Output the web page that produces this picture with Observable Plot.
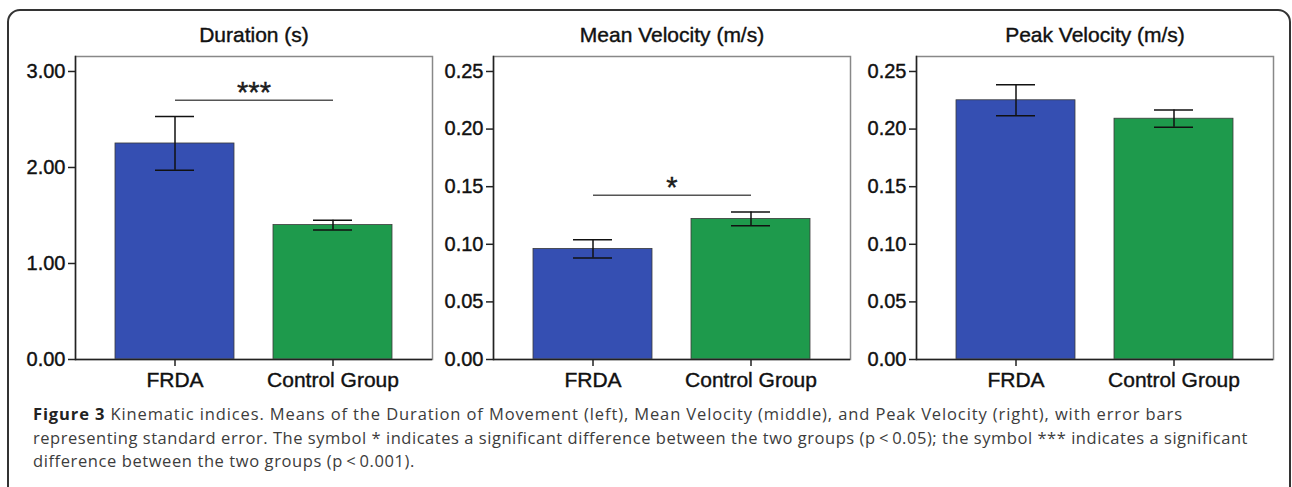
<!DOCTYPE html>
<html><head><meta charset="utf-8">
<script src="https://cdn.jsdelivr.net/npm/d3@7"></script>
<script src="https://cdn.jsdelivr.net/npm/@observablehq/plot@0.6"></script>
<style>
html,body{margin:0;padding:0;background:#fff;}
#wrap{position:relative;width:1292px;height:487px;overflow:hidden;background:#fff;}
#border{position:absolute;left:7px;top:9px;width:1284px;height:540px;border:2px solid #333;border-radius:13px;box-sizing:border-box;}
.panel{position:absolute;top:0;}
.panel svg{overflow:visible;max-width:none;}
.panel svg text{stroke:#111;stroke-width:0.4px;}
#caption{position:absolute;left:33px;top:402px;font-family:"Open Sans",sans-serif;font-size:16.5px;line-height:23.5px;color:#3c3c3c;white-space:nowrap;}
#caption span{display:inline-block;}
#caption b{color:#222;}
</style></head>
<body><div id="wrap"><div id="border"></div>
<div id="p0" class="panel"></div><div id="p1" class="panel"></div><div id="p2" class="panel"></div>
<div id="caption"><span data-w="1150"><b>Figure 3</b> Kinematic indices. Means of the Duration of Movement (left), Mean Velocity (middle), and Peak Velocity (right), with error bars</span><br><span data-w="1215">representing standard error. The symbol * indicates a significant difference between the two groups (p&thinsp;&lt;&thinsp;0.05); the symbol *** indicates a significant</span><br><span data-w="382">difference between the two groups (p&thinsp;&lt;&thinsp;0.001).</span></div>
</div>
<script>
const groups = ["FRDA", "Control Group"];
const groupColors = ["#354fb2", "#1e9a4c"];
const titles = ["Duration (s)", "Mean Velocity (m/s)", "Peak Velocity (m/s)"];

const durationMean = [2.25, 1.40];
const durationSE = [0.28, 0.05];
const meanVelMean = [0.096, 0.122];
const meanVelSE = [0.008, 0.006];
const peakVelMean = [0.225, 0.209];
const peakVelSE = [0.0135, 0.0075];

const durationTicks = [0, 1, 2, 3];
const velocityTicks = [0, 0.05, 0.10, 0.15, 0.20, 0.25];
const durationMax = 3.156;
const velocityMax = 0.263;

// significance annotations: [label, y-level]
const durationSig = ["***", 2.70];
const meanVelSig = ["*", 0.1425];

function panel(el, left, title, means, ses, yMax, yTicks, sig) {
  const data = groups.map((g, i) => ({group: g, mean: means[i], lo: means[i] - ses[i], hi: means[i] + ses[i]}));
  const marks = [
    Plot.barY(data, {x: "group", y: "mean", fill: "group", stroke: "#3a3a3a", strokeWidth: 0.8}),
    Plot.ruleX(data, {x: "group", y1: "lo", y2: "hi", stroke: "#111", strokeWidth: 1.5}),
    Plot.tickY(data, {x: "group", y: "lo", insetLeft: 40, insetRight: 40, stroke: "#111", strokeWidth: 1.5}),
    Plot.tickY(data, {x: "group", y: "hi", insetLeft: 40, insetRight: 40, stroke: "#111", strokeWidth: 1.5}),
    Plot.frame({stroke: "#888", strokeWidth: 1.5}),
    Plot.frame({anchor: "left", stroke: "#222", strokeWidth: 1.5}),
    Plot.ruleY([0], {stroke: "#222", strokeWidth: 1.5}),
    Plot.axisY({ticks: yTicks, tickFormat: d3.format(".2f"), tickSize: 7, tickPadding: 3, fontSize: 20, label: null, stroke: "#222", strokeWidth: 1.5}),
    Plot.axisX({tickSize: 7, tickPadding: 6, fontSize: 21, label: null, stroke: "#222", strokeWidth: 1.5}),
    Plot.text([title], {frameAnchor: "top", lineAnchor: "middle", dy: -21, fontSize: 21, text: d => d, fill: "#111"})
  ];
  if (sig) {
    marks.push(Plot.link([sig], {x1: () => groups[0], x2: () => groups[1], y1: d => d[1], y2: d => d[1], stroke: "#555", strokeWidth: 1.5}));
    marks.push(Plot.text([sig], {x: () => groups[0], y: d => d[1], text: d => d[0], fontSize: 29, dx: 79, dy: -7.5, lineAnchor: "middle", fill: "#222"}));
  }
  const p = Plot.plot({
    width: 440, height: 400,
    marginLeft: 75, marginRight: 8, marginTop: 56, marginBottom: 41,
    x: {domain: groups, padding: 0.25},
    y: {domain: [0, yMax]},
    color: {domain: groups, range: groupColors},
    style: {fontFamily: "'Liberation Sans', Arial, sans-serif", fontSize: "20px", color: "#111", background: "transparent", overflow: "visible"},
    marks
  });
  const host = document.getElementById(el);
  host.style.left = left + "px";
  host.appendChild(p);
}

panel("p0", 0, titles[0], durationMean, durationSE, durationMax, durationTicks, durationSig);
panel("p1", 418, titles[1], meanVelMean, meanVelSE, velocityMax, velocityTicks, meanVelSig);
panel("p2", 841, titles[2], peakVelMean, peakVelSE, velocityMax, velocityTicks, null);

// fit caption lines to the reference line lengths
document.querySelectorAll("#caption span").forEach(s => {
  const target = +s.dataset.w;
  const w = s.getBoundingClientRect().width;
  const n = s.textContent.length;
  s.style.letterSpacing = ((target - w) / n) + "px";
});
</script>
</body></html>
